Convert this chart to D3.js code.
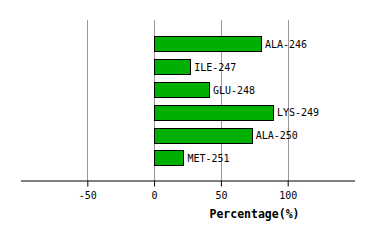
<!DOCTYPE html>
<html><head><meta charset="utf-8">
<script src="https://cdn.jsdelivr.net/npm/d3@7"></script>
<style>body{margin:0;background:#fff}svg{display:block}</style>
</head><body>
<svg id="c" width="374" height="240"></svg>
<script>
const residues = ["ALA-246","ILE-247","GLU-248","LYS-249","ALA-250","MET-251"];
const percentages = [80, 27, 41, 89, 73, 22];
const tickValues = [-50, 0, 50, 100];
const xDomain = [-100, 150];
const axisTitle = "Percentage(%)";

const svg = d3.select("#c");
const font = "'DejaVu Sans Mono', monospace";
const x = d3.scaleLinear().domain(xDomain).range([20.5, 354.5]);
const y = d3.scaleBand().domain(residues).range([21, 181]).paddingInner(0.34).paddingOuter(0.68);

svg.append("g").selectAll("line").data(tickValues).join("line")
  .attr("x1", d => Math.round(x(d)) + 0.5).attr("x2", d => Math.round(x(d)) + 0.5)
  .attr("y1", 20).attr("y2", 180)
  .attr("stroke", "#999").attr("stroke-width", 1);

svg.append("g").selectAll("rect").data(residues).join("rect")
  .attr("x", Math.round(x(0)) + 0.5)
  .attr("y", d => Math.round(y(d)) + 0.5)
  .attr("width", (d, i) => Math.round(x(percentages[i]) - x(0)))
  .attr("height", Math.round(y.bandwidth()))
  .attr("fill", "#00b000").attr("stroke", "#000").attr("stroke-width", 1);

svg.append("g").selectAll("text").data(residues).join("text")
  .attr("x", (d, i) => x(percentages[i]) + 4)
  .attr("y", d => y(d) + y.bandwidth() / 2 + 4)
  .attr("font-family", font).attr("font-size", 10).attr("fill", "#000")
  .text(d => d);

const axis = d3.axisBottom(x).tickValues(tickValues).tickSize(6).tickPadding(5).tickSizeOuter(0);
const ag = svg.append("g").attr("transform", "translate(0,180.5)").call(axis);
ag.select(".domain").attr("stroke", "#000");
ag.selectAll(".tick line").attr("stroke", "#000");
ag.selectAll(".tick text").attr("font-family", font).attr("font-size", 10).attr("fill", "#000")
  .text(d => d < 0 ? "-" + Math.abs(d) : d);

svg.append("text").attr("x", 254.5).attr("y", 217.5).attr("text-anchor", "middle")
  .attr("font-family", font).attr("font-size", 11.5).attr("font-weight", "bold").attr("fill", "#000")
  .text(axisTitle);
</script>
</body></html>
